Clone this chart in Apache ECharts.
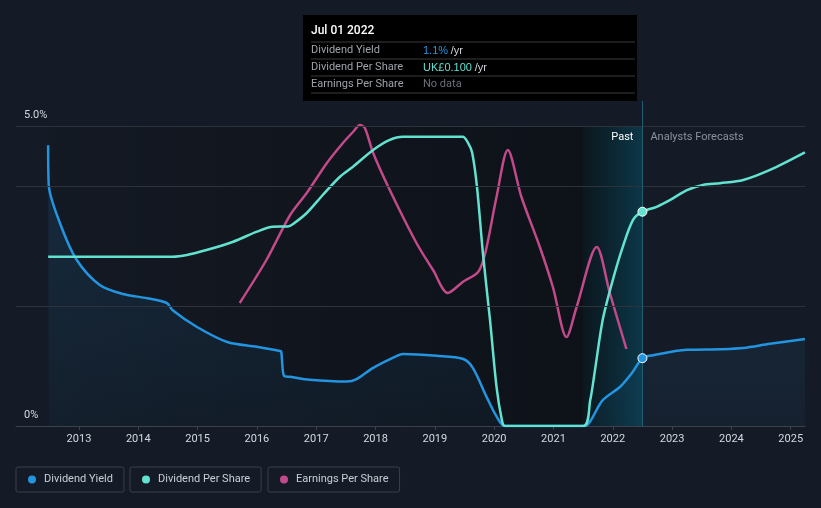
<!DOCTYPE html>
<html>
<head>
<meta charset="utf-8">
<script src="https://cdn.jsdelivr.net/npm/echarts@6/dist/echarts.min.js"></script>
<style>
html,body{margin:0;padding:0;background:#151b26;}
#chart{width:821px;height:508px;}
</style>
</head>
<body>
<div id="chart"></div>
<script>
// ---- data (x in decimal years) ----
const yearTicks = [2013,2014,2015,2016,2017,2018,2019,2020,2021,2022,2023,2024,2025];
const yieldTicks = [0, 5];

const yieldYears = [2012.48,2012.49,2012.68,2012.96,2013.35,2013.74,2014.15,2014.48,2014.58,2014.99,2015.50,2016.00,2016.39,2016.41,2016.46,2016.56,2016.89,2017.51,2017.68,2017.96,2018.36,2018.46,2019.03,2019.47,2019.64,2019.87,2020.04,2020.18,2021.50,2021.53,2021.83,2022.12,2022.32,2022.50,2022.68,2023.25,2023.81,2024.20,2024.65,2025.24];
const yieldValues = [4.68,4.02,3.38,2.77,2.35,2.20,2.13,2.05,1.93,1.65,1.40,1.32,1.25,1.24,0.83,0.82,0.77,0.74,0.78,0.97,1.17,1.20,1.17,1.12,0.97,0.49,0.16,0,0,0,0.43,0.65,0.88,1.13,1.18,1.27,1.28,1.30,1.37,1.45];

const dpsYears = [2012.48,2014.58,2014.82,2015.15,2015.60,2016.00,2016.27,2016.52,2016.61,2016.84,2017.11,2017.40,2017.62,2017.96,2018.24,2018.46,2019.47,2019.56,2019.63,2019.71,2019.81,2019.93,2020.04,2020.13,2020.18,2021.50,2021.62,2021.70,2021.83,2022.00,2022.17,2022.34,2022.50,2022.74,2022.97,2023.25,2023.52,2023.81,2024.20,2024.65,2025.24];
const dpsValues = [0.0790,0.0790,0.0798,0.0821,0.0860,0.0907,0.0930,0.0931,0.0943,0.0994,0.1078,0.1163,0.1210,0.1288,0.1335,0.1350,0.1350,0.1321,0.1274,0.1117,0.0807,0.0495,0.0183,0.0028,0,0,0.0121,0.0261,0.0495,0.0681,0.0837,0.0961,0.1000,0.1023,0.1055,0.1101,0.1125,0.1133,0.1148,0.1195,0.1277];

const epsYears = [2015.71,2016.16,2016.56,2016.84,2017.18,2017.45,2017.62,2017.74,2017.82,2017.96,2018.24,2018.69,2018.97,2019.22,2019.47,2019.73,2019.85,2020.04,2020.23,2020.46,2020.77,2020.99,2021.22,2021.39,2021.73,2021.95,2022.23];
const epsValues = [12.3,16.6,21.1,23.3,26.3,28.3,29.4,30.1,29.8,27.3,23.6,18.3,15.6,13.3,14.4,15.4,17.3,22.9,27.6,22.9,17.9,13.9,8.9,11.9,17.9,13.3,7.7];

const xMin = 2011.938, xMax = 2025.241;
const dataStart = 2012.48, pastStart = 2021.5, nowX = 2022.5;
const nowYield = 1.13, nowDps = 0.100;

const tooltipDate = 'Jul 01 2022';
const tooltipRows = [
  ['Dividend Yield', '1.1%', '/yr'],
  ['Dividend Per Share', 'UK£0.100', '/yr'],
  ['Earnings Per Share', 'No data', '']
];

// ---- style ----
const C_YIELD = '#2394df', C_DPS = '#63e2d0', C_EPS = '#c2498a';
const zip = (xs, vs) => xs.map((x, i) => [x, vs[i]]);

const chart = echarts.init(document.getElementById('chart'), null, {renderer: 'canvas'});

const legendCommon = {
  top: 467, orient: 'horizontal', icon: 'circle', itemWidth: 8, itemHeight: 8,
  padding: [7, 11, 7, 12], borderColor: '#3a3f49', borderWidth: 1, borderRadius: 2,
  textStyle: {color: '#c9cdd4', fontSize: 11, fontFamily: 'Roboto', padding: [0, 0, 0, 3]},
  selectedMode: false
};

const option = {
  backgroundColor: '#151b26',
  animation: false,
  textStyle: {fontFamily: 'Roboto'},
  grid: {left: 16, right: 16, top: 101, bottom: 82},
  xAxis: {
    type: 'value', min: xMin, max: xMax,
    axisLine: {show: true, lineStyle: {color: '#3c414b', width: 1}},
    axisTick: {show: true, customValues: yearTicks, length: 4, lineStyle: {color: '#3c414b'}},
    axisLabel: {customValues: yearTicks, color: '#d5d9e0', fontSize: 11, margin: 8,
      formatter: v => String(Math.round(v))},
    splitLine: {show: false}
  },
  yAxis: [
    {type: 'value', min: 0, max: 325 / 60,
      axisLine: {show: false}, axisTick: {show: false}, splitLine: {show: false},
      axisLabel: {customValues: yieldTicks, inside: true, margin: 8, color: '#d5d9e0', fontSize: 11,
        verticalAlign: 'bottom', padding: [0, 0, 5, 0],
        formatter: v => v === 0 ? '0%' : v.toFixed(1) + '%'}},
    {type: 'value', min: 0, max: 0.14 * 325 / 300, show: false},
    {type: 'value', min: 0, max: 32.5, show: false}
  ],
  legend: [
    Object.assign({}, legendCommon, {left: 16, data: ['Dividend Yield']}),
    Object.assign({}, legendCommon, {left: 130, data: ['Dividend Per Share']}),
    Object.assign({}, legendCommon, {left: 268, data: ['Earnings Per Share']})
  ],
  series: [
    {
      type: 'line', name: 'bg', yAxisIndex: 0, data: [], z: 1, silent: true,
      markArea: {
        silent: true,
        data: [
          [{xAxis: dataStart, yAxis: 5, itemStyle: {color: new echarts.graphic.LinearGradient(0, 0, 1, 0, [
              {offset: 0, color: 'rgba(0,0,0,0.08)'}, {offset: 1, color: 'rgba(0,0,0,0.36)'}])}},
           {xAxis: pastStart, yAxis: 0}],
          [{xAxis: pastStart, yAxis: 5, itemStyle: {color: new echarts.graphic.LinearGradient(0, 0, 1, 0, [
              {offset: 0, color: 'rgba(8,22,28,0.75)'}, {offset: 1, color: 'rgba(10,62,80,0.8)'}])}},
           {xAxis: nowX, yAxis: 0}]
        ]
      },
      markPoint: {
        silent: true, symbol: 'circle', symbolSize: 0,
        data: [
          {coord: [nowX, 5], label: {show: true, position: [-9, 6], align: 'right', verticalAlign: 'top',
            formatter: 'Past', color: '#ffffff', fontSize: 11}},
          {coord: [nowX, 5], label: {show: true, position: [8, 6], align: 'left', verticalAlign: 'top',
            formatter: 'Analysts Forecasts', color: '#8c929c', fontSize: 11}}
        ]
      },
      markLine: {
        silent: true, symbol: 'none', label: {show: false},
        lineStyle: {color: '#2d323b', width: 1, type: 'solid'},
        data: [{yAxis: 2}, {yAxis: 4}, {yAxis: 5},
          {xAxis: nowX, lineStyle: {color: '#1f5f70', width: 1, type: 'solid'}}]
      }
    },
    {
      type: 'line', name: 'Dividend Yield', yAxisIndex: 0, z: 3,
      data: zip(yieldYears, yieldValues),
      smooth: 0.3, symbol: 'none',
      itemStyle: {color: C_YIELD},
      lineStyle: {color: C_YIELD, width: 2.5},
      areaStyle: {color: new echarts.graphic.LinearGradient(0, 0, 0, 1, [
        {offset: 0, color: 'rgba(35,148,223,0.22)'}, {offset: 1, color: 'rgba(35,148,223,0.07)'}])},
      markPoint: {
        symbol: 'circle', symbolSize: 9, silent: true, label: {show: false},
        itemStyle: {color: C_YIELD, borderColor: '#ffffff', borderWidth: 1},
        data: [{coord: [nowX, nowYield]}]
      }
    },
    {
      type: 'line', name: 'Dividend Per Share', yAxisIndex: 1, z: 4,
      data: zip(dpsYears, dpsValues),
      smooth: 0.3, symbol: 'none',
      itemStyle: {color: C_DPS},
      lineStyle: {color: C_DPS, width: 2.5},
      markPoint: {
        symbol: 'circle', symbolSize: 9, silent: true, label: {show: false},
        itemStyle: {color: C_DPS, borderColor: '#ffffff', borderWidth: 1},
        data: [{coord: [nowX, nowDps]}]
      }
    },
    {
      type: 'line', name: 'Earnings Per Share', yAxisIndex: 2, z: 3,
      data: zip(epsYears, epsValues),
      smooth: 0.3, symbol: 'none',
      itemStyle: {color: C_EPS},
      lineStyle: {color: C_EPS, width: 2.5}
    }
  ],
  graphic: [
    {
      type: 'group', left: 303, top: 15, z: 100,
      children: [
        {type: 'rect', shape: {x: 0, y: 0, width: 334, height: 86}, style: {fill: '#000000'}},
        {type: 'text', x: 8, y: 10, style: {text: tooltipDate, fill: '#ffffff', fontSize: 12, fontFamily: 'Roboto', fontWeight: 500}},
        {type: 'line', shape: {x1: 8, y1: 27, x2: 332, y2: 27}, style: {stroke: '#3a3a3a', lineWidth: 1}},
        {type: 'line', shape: {x1: 8, y1: 44, x2: 332, y2: 44}, style: {stroke: '#3a3a3a', lineWidth: 1}},
        {type: 'line', shape: {x1: 8, y1: 61, x2: 332, y2: 61}, style: {stroke: '#3a3a3a', lineWidth: 1}},
        {type: 'line', shape: {x1: 8, y1: 78, x2: 332, y2: 78}, style: {stroke: '#3a3a3a', lineWidth: 1}},
        {type: 'text', x: 8, y: 30, style: {text: tooltipRows[0][0], fill: '#9ea3ab', fontSize: 11, fontFamily: 'Roboto'}},
        {type: 'text', x: 8, y: 47, style: {text: tooltipRows[1][0], fill: '#9ea3ab', fontSize: 11, fontFamily: 'Roboto'}},
        {type: 'text', x: 8, y: 64, style: {text: tooltipRows[2][0], fill: '#9ea3ab', fontSize: 11, fontFamily: 'Roboto'}},
        {type: 'text', x: 120, y: 30, style: {text: '{a|' + tooltipRows[0][1] + '} {b|' + tooltipRows[0][2] + '}', fontSize: 11, fontFamily: 'Roboto',
          rich: {a: {fill: C_YIELD, fontSize: 11}, b: {fill: '#d0d4da', fontSize: 11}}}},
        {type: 'text', x: 120, y: 47, style: {text: '{a|' + tooltipRows[1][1] + '} {b|' + tooltipRows[1][2] + '}', fontSize: 11, fontFamily: 'Roboto',
          rich: {a: {fill: C_DPS, fontSize: 11}, b: {fill: '#d0d4da', fontSize: 11}}}},
        {type: 'text', x: 120, y: 64, style: {text: tooltipRows[2][1], fill: '#6b7079', fontSize: 11, fontFamily: 'Roboto'}}
      ]
    }
  ]
};
chart.setOption(option);
</script>
</body>
</html>
